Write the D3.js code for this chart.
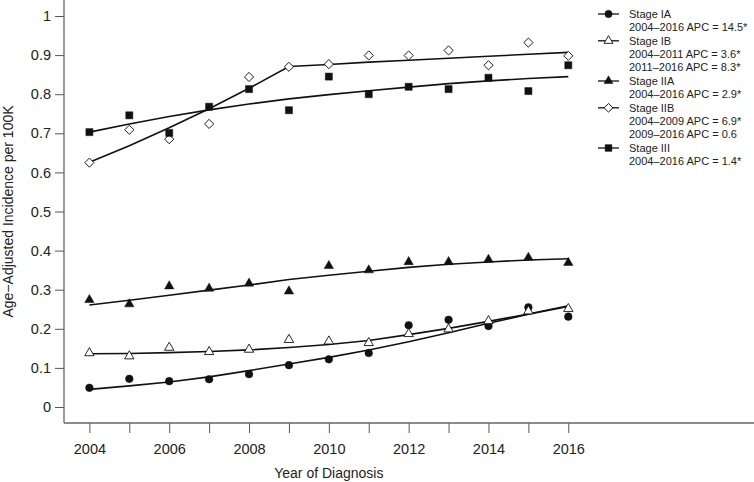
<!DOCTYPE html>
<html>
<head>
<meta charset="utf-8">
<script src="https://cdn.jsdelivr.net/npm/d3@7"></script>
<style>
  body { margin: 0; background: #fff; }
  svg { font-family: "Liberation Sans", Arial, sans-serif; }
  .tick text { fill: #222; }
</style>
</head>
<body>
<div id="chart"></div>
<script>
// data
var years = [2004, 2005, 2006, 2007, 2008, 2009, 2010, 2011, 2012, 2013, 2014, 2015, 2016];

var stageIA   = [0.049, 0.072, 0.066, 0.071, 0.084, 0.107, 0.122, 0.138, 0.209, 0.223, 0.207, 0.255, 0.231];
var stageIB   = [0.138, 0.130, 0.152, 0.141, 0.147, 0.172, 0.168, 0.164, 0.187, 0.199, 0.220, 0.245, 0.251];
var stageIIA  = [0.274, 0.263, 0.309, 0.303, 0.316, 0.296, 0.361, 0.350, 0.371, 0.371, 0.377, 0.382, 0.369];
var stageIIB  = [0.625, 0.709, 0.685, 0.724, 0.844, 0.870, 0.877, 0.899, 0.899, 0.912, 0.874, 0.932, 0.898];
var stageIII  = [0.703, 0.746, 0.701, 0.768, 0.813, 0.759, 0.845, 0.800, 0.819, 0.813, 0.842, 0.808, 0.874];

// joinpoint fitted lines
var fitIA   = [0.045, 0.054, 0.064, 0.077, 0.093, 0.110, 0.127, 0.146, 0.167, 0.190, 0.214, 0.237, 0.257];
var fitIB   = [0.136, 0.137, 0.139, 0.142, 0.146, 0.152, 0.160, 0.170, 0.185, 0.201, 0.219, 0.238, 0.259];
var fitIIA  = [0.261, 0.273, 0.286, 0.299, 0.312, 0.326, 0.337, 0.347, 0.357, 0.365, 0.371, 0.376, 0.379];
var fitIIB  = [0.626, 0.668, 0.714, 0.763, 0.815, 0.871, 0.876, 0.882, 0.887, 0.892, 0.897, 0.902, 0.907];
var fitIII  = [0.703, 0.724, 0.743, 0.760, 0.775, 0.788, 0.799, 0.809, 0.818, 0.827, 0.834, 0.840, 0.845];

var yTicks = [0, 0.1, 0.2, 0.3, 0.4, 0.5, 0.6, 0.7, 0.8, 0.9, 1];
var yTickLabels = ["0", "0.1", "0.2", "0.3", "0.4", "0.5", "0.6", "0.7", "0.8", "0.9", "1"];
var xTickLabels = ["2004", "", "2006", "", "2008", "", "2010", "", "2012", "", "2014", "", "2016"];

var legendLabels = [
  ["Stage IA", "2004\u20132016 APC = 14.5*"],
  ["Stage IB", "2004\u20132011 APC = 3.6*", "2011\u20132016 APC = 8.3*"],
  ["Stage IIA", "2004\u20132016 APC = 2.9*"],
  ["Stage IIB", "2004\u20132009 APC = 6.9*", "2009\u20132016 APC = 0.6"],
  ["Stage III", "2004\u20132016 APC = 1.4*"]
];

var width = 754, height = 482;
var margin = {top: 0, right: 0, bottom: 59, left: 64};

var series = [
  {name: "IA",  obs: stageIA,  fit: fitIA,  shape: d3.symbolCircle,   size: 46, open: false, rot: 0},
  {name: "IB",  obs: stageIB,  fit: fitIB,  shape: d3.symbolTriangle, size: 38, open: true,  rot: 0},
  {name: "IIA", obs: stageIIA, fit: fitIIA, shape: d3.symbolTriangle, size: 38, open: false, rot: 0},
  {name: "IIB", obs: stageIIB, fit: fitIIB, shape: d3.symbolSquare,   size: 42, open: true,  rot: 45},
  {name: "III", obs: stageIII, fit: fitIII, shape: d3.symbolSquare,   size: 50, open: false, rot: 0}
];

var svg = d3.select("#chart")
  .append("svg")
  .attr("width", width)
  .attr("height", height);

var xScale = d3.scaleLinear()
  .domain([2004, 2016])
  .range([89.4, 568.3]);

var yScale = d3.scaleLinear()
  .domain([0, 1])
  .range([407, 16]);

// Y axis
var yAxis = d3.axisLeft(yScale)
  .tickValues(yTicks)
  .tickFormat((d, i) => yTickLabels[i])
  .tickSize(9)
  .tickPadding(4);

svg.append("g")
  .attr("class", "y-axis")
  .attr("transform", `translate(${margin.left},0)`)
  .call(yAxis)
  .call(g => g.select(".domain").remove())
  .call(g => g.selectAll("line").attr("stroke", "#555"))
  .selectAll("text")
  .style("font-size", "14.5px");

// X axis
var xAxis = d3.axisBottom(xScale)
  .tickValues(years)
  .tickFormat((d, i) => xTickLabels[i])
  .tickSize(10)
  .tickPadding(11);

svg.append("g")
  .attr("class", "x-axis")
  .attr("transform", `translate(0,${height - margin.bottom})`)
  .call(xAxis)
  .call(g => g.select(".domain").remove())
  .call(g => g.selectAll("line").attr("stroke", "#555"))
  .selectAll("text")
  .style("font-size", "14.5px");

// L-shaped frame
svg.append("line")
  .attr("x1", margin.left).attr("x2", margin.left)
  .attr("y1", 0).attr("y2", height - margin.bottom)
  .attr("stroke", "#666").attr("stroke-width", 1.3);

svg.append("line")
  .attr("x1", margin.left).attr("x2", width)
  .attr("y1", height - margin.bottom).attr("y2", height - margin.bottom)
  .attr("stroke", "#666").attr("stroke-width", 1.3);

// axis titles
svg.append("text")
  .attr("transform", `translate(13,${yScale(0.5)}) rotate(-90)`)
  .text("Age\u2212Adjusted Incidence per 100K")
  .style("text-anchor", "middle")
  .style("font-size", "14px")
  .style("fill", "#222");

svg.append("text")
  .attr("x", (xScale(2004) + xScale(2016)) / 2)
  .attr("y", 478)
  .text("Year of Diagnosis")
  .style("text-anchor", "middle")
  .style("font-size", "14px")
  .style("fill", "#222");

// fitted lines
var fitLine = d3.line()
  .x((d, i) => xScale(years[i]))
  .y(d => yScale(d));

svg.append("g")
  .attr("class", "lines")
  .selectAll("path")
  .data(series)
  .enter()
  .append("path")
  .attr("d", d => fitLine(d.fit))
  .attr("fill", "none")
  .attr("stroke", "#111")
  .attr("stroke-width", 1.6);

// observed points
series.forEach(function(s) {
  var sym = d3.symbol().type(s.shape).size(s.size);
  svg.append("g")
    .attr("class", "dots " + s.name)
    .selectAll("path")
    .data(s.obs)
    .enter()
    .append("path")
    .attr("d", sym)
    .attr("transform", (d, i) => `translate(${xScale(years[i])},${yScale(d)}) rotate(${s.rot})`)
    .attr("fill", s.open ? "#fff" : "#111")
    .attr("stroke", "#111")
    .attr("stroke-width", s.open ? 0.9 : 0.5);
});

// legend
var legend = svg.append("g").attr("class", "legend");
var row = 0;
var rowH = 13.4;
legendLabels.forEach(function(lines, k) {
  var s = series[k];
  var ly = 14 + row * rowH;
  legend.append("line")
    .attr("x1", 598).attr("x2", 619)
    .attr("y1", ly).attr("y2", ly)
    .attr("stroke", "#111").attr("stroke-width", 1.3);
  legend.append("path")
    .attr("d", d3.symbol().type(s.shape).size(s.size * 0.9))
    .attr("transform", `translate(608.5,${ly}) rotate(${s.rot})`)
    .attr("fill", s.open ? "#fff" : "#111")
    .attr("stroke", "#111")
    .attr("stroke-width", s.open ? 0.9 : 0.5);
  lines.forEach(function(t) {
    legend.append("text")
      .attr("x", 629)
      .attr("y", 14 + row * rowH)
      .attr("dy", "0.35em")
      .text(t)
      .style("font-size", "11px")
      .style("fill", "#222");
    row++;
  });
});
</script>
</body>
</html>
